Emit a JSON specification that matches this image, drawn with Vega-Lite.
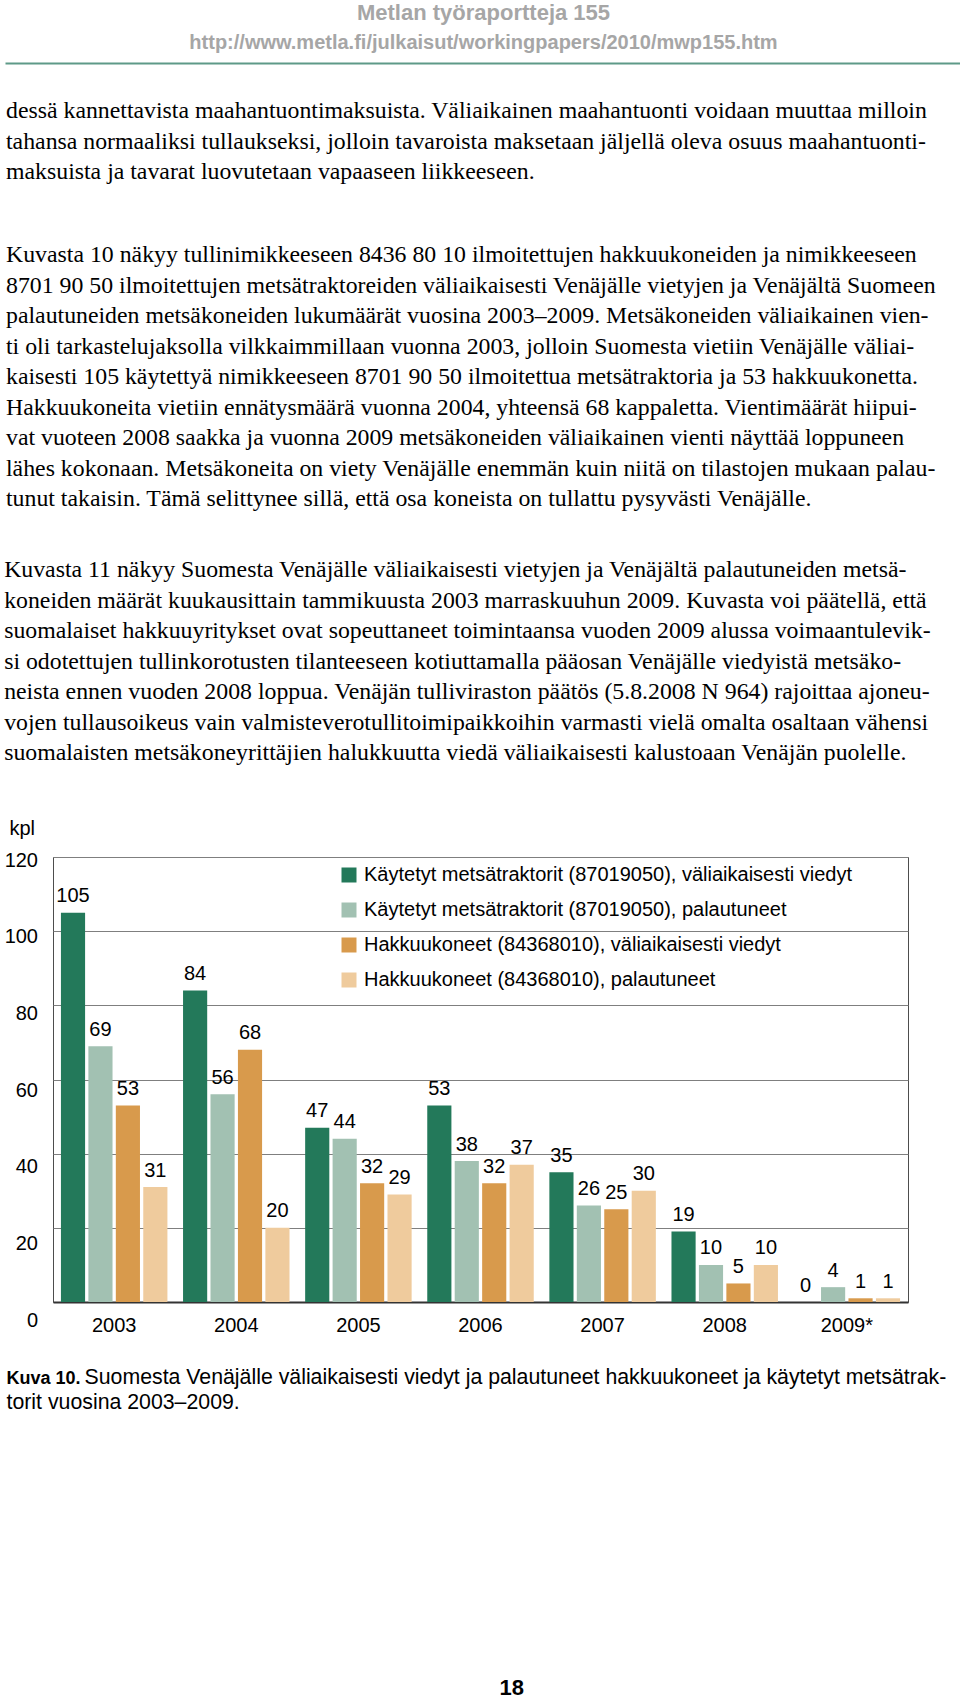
{
  "$schema": "https://vega.github.io/schema/vega-lite/v6.json",
  "background": "white",
  "padding": {"left": 3, "top": 2, "right": 0, "bottom": 0},
  "spacing": 36,
  "title": {"text": "18", "orient": "bottom", "anchor": "middle", "dx": 6, "offset": 265, "font": "Liberation Sans", "fontSize": 22, "fontWeight": "bold", "color": "#000000"},
  "resolve": {"legend": {"color": "independent"}, "scale": {"color": "independent", "x": "independent"}},
  "datasets": {
    "bars": [
      {"year": "2003", "series": "Käytetyt metsätraktorit (87019050), väliaikaisesti viedyt", "value": 105},
      {"year": "2003", "series": "Käytetyt metsätraktorit (87019050), palautuneet", "value": 69},
      {"year": "2003", "series": "Hakkuukoneet (84368010), väliaikaisesti viedyt", "value": 53},
      {"year": "2003", "series": "Hakkuukoneet (84368010), palautuneet", "value": 31},
      {"year": "2004", "series": "Käytetyt metsätraktorit (87019050), väliaikaisesti viedyt", "value": 84},
      {"year": "2004", "series": "Käytetyt metsätraktorit (87019050), palautuneet", "value": 56},
      {"year": "2004", "series": "Hakkuukoneet (84368010), väliaikaisesti viedyt", "value": 68},
      {"year": "2004", "series": "Hakkuukoneet (84368010), palautuneet", "value": 20},
      {"year": "2005", "series": "Käytetyt metsätraktorit (87019050), väliaikaisesti viedyt", "value": 47},
      {"year": "2005", "series": "Käytetyt metsätraktorit (87019050), palautuneet", "value": 44},
      {"year": "2005", "series": "Hakkuukoneet (84368010), väliaikaisesti viedyt", "value": 32},
      {"year": "2005", "series": "Hakkuukoneet (84368010), palautuneet", "value": 29},
      {"year": "2006", "series": "Käytetyt metsätraktorit (87019050), väliaikaisesti viedyt", "value": 53},
      {"year": "2006", "series": "Käytetyt metsätraktorit (87019050), palautuneet", "value": 38},
      {"year": "2006", "series": "Hakkuukoneet (84368010), väliaikaisesti viedyt", "value": 32},
      {"year": "2006", "series": "Hakkuukoneet (84368010), palautuneet", "value": 37},
      {"year": "2007", "series": "Käytetyt metsätraktorit (87019050), väliaikaisesti viedyt", "value": 35},
      {"year": "2007", "series": "Käytetyt metsätraktorit (87019050), palautuneet", "value": 26},
      {"year": "2007", "series": "Hakkuukoneet (84368010), väliaikaisesti viedyt", "value": 25},
      {"year": "2007", "series": "Hakkuukoneet (84368010), palautuneet", "value": 30},
      {"year": "2008", "series": "Käytetyt metsätraktorit (87019050), väliaikaisesti viedyt", "value": 19},
      {"year": "2008", "series": "Käytetyt metsätraktorit (87019050), palautuneet", "value": 10},
      {"year": "2008", "series": "Hakkuukoneet (84368010), väliaikaisesti viedyt", "value": 5},
      {"year": "2008", "series": "Hakkuukoneet (84368010), palautuneet", "value": 10},
      {"year": "2009*", "series": "Käytetyt metsätraktorit (87019050), väliaikaisesti viedyt", "value": 0},
      {"year": "2009*", "series": "Käytetyt metsätraktorit (87019050), palautuneet", "value": 4},
      {"year": "2009*", "series": "Hakkuukoneet (84368010), väliaikaisesti viedyt", "value": 1},
      {"year": "2009*", "series": "Hakkuukoneet (84368010), palautuneet", "value": 1}
    ]
  },
  "vconcat": [
    {
      "width": 907,
      "height": 1,
      "view": {"stroke": null},
      "title": {
        "text": "Metlan työraportteja 155",
        "subtitle": "http://www.metla.fi/julkaisut/workingpapers/2010/mwp155.htm",
        "anchor": "middle",
        "frame": "group",
        "dx": -23,
        "font": "Liberation Sans",
        "fontSize": 22,
        "fontWeight": "bold",
        "color": "#a6a6a6",
        "subtitleFont": "Liberation Sans",
        "subtitleFontSize": 20,
        "subtitleFontWeight": "bold",
        "subtitleColor": "#a6a6a6",
        "subtitlePadding": 8,
        "offset": 8
      },
      "data": {"name": "bars"},
      "mark": {"type": "point", "opacity": 0, "size": 0},
      "encoding": {
        "x": {
          "field": "year", "type": "nominal", "sort": null,
          "scale": {"range": [-48, 907]},
          "axis": {"orient": "bottom", "title": null, "labels": false, "ticks": false, "grid": false, "domain": true, "domainColor": "#5e9a88", "domainWidth": 2}
        }
      }
    },
    {
      "width": 907,
      "height": 1,
      "view": {"stroke": null},
      "title": {
        "text": [
          "dessä kannettavista maahantuontimaksuista. Väliaikainen maahantuonti voidaan muuttaa milloin",
          "tahansa normaaliksi tullaukseksi, jolloin tavaroista maksetaan jäljellä oleva osuus maahantuonti-",
          "maksuista ja tavarat luovutetaan vapaaseen liikkeeseen."
        ],
        "subtitle": [
          "Kuvasta 10 näkyy tullinimikkeeseen 8436 80 10 ilmoitettujen hakkuukoneiden ja nimikkeeseen",
          "8701 90 50 ilmoitettujen metsätraktoreiden väliaikaisesti Venäjälle vietyjen ja Venäjältä Suomeen",
          "palautuneiden metsäkoneiden lukumäärät vuosina 2003–2009. Metsäkoneiden väliaikainen vien-",
          "ti oli tarkastelujaksolla vilkkaimmillaan vuonna 2003, jolloin Suomesta vietiin Venäjälle väliai-",
          "kaisesti 105 käytettyä nimikkeeseen 8701 90 50 ilmoitettua metsätraktoria ja 53 hakkuukonetta.",
          "Hakkuukoneita vietiin ennätysmäärä vuonna 2004, yhteensä 68 kappaletta. Vientimäärät hiipui-",
          "vat vuoteen 2008 saakka ja vuonna 2009 metsäkoneiden väliaikainen vienti näyttää loppuneen",
          "lähes kokonaan. Metsäkoneita on viety Venäjälle enemmän kuin niitä on tilastojen mukaan palau-",
          "tunut takaisin. Tämä selittynee sillä, että osa koneista on tullattu pysyvästi Venäjälle."
        ],
        "anchor": "start",
        "frame": "group",
        "align": "left",
        "dx": -47,
        "font": "Liberation Serif",
        "fontSize": 23.8,
        "fontWeight": "normal",
        "color": "#000000",
        "lineHeight": 30.5,
        "subtitleFont": "Liberation Serif",
        "subtitleFontSize": 23.8,
        "subtitleFontWeight": "normal",
        "subtitleColor": "#000000",
        "subtitleLineHeight": 30.5,
        "subtitlePadding": 59,
        "offset": 8.6
      },
      "data": {"values": [{"t": 0}]},
      "mark": {"type": "rule"},
      "encoding": {}
    },
    {
      "width": 855,
      "height": 445,
      "view": {"stroke": "#4d4d4d", "strokeWidth": 1},
      "data": {"name": "bars"},
      "title": {
        "text": [
          "Kuvasta 11 näkyy Suomesta Venäjälle väliaikaisesti vietyjen ja Venäjältä palautuneiden metsä-",
          "koneiden määrät kuukausittain tammikuusta 2003 marraskuuhun 2009. Kuvasta voi päätellä, että",
          "suomalaiset hakkuuyritykset ovat sopeuttaneet toimintaansa vuoden 2009 alussa voimaantulevik-",
          "si odotettujen tullinkorotusten tilanteeseen kotiuttamalla pääosan Venäjälle viedyistä metsäko-",
          "neista ennen vuoden 2008 loppua. Venäjän tulliviraston päätös (5.8.2008 N 964) rajoittaa ajoneu-",
          "vojen tullausoikeus vain valmisteverotullitoimipaikkoihin varmasti vielä omalta osaltaan vähensi",
          "suomalaisten metsäkoneyrittäjien halukkuutta viedä väliaikaisesti kalustoaan Venäjän puolelle."
        ],
        "anchor": "start",
        "frame": "bounds",
        "align": "left",
        "font": "Liberation Serif",
        "fontSize": 23.8,
        "fontWeight": "normal",
        "color": "#000000",
        "lineHeight": 30.5,
        "offset": 53
      },
      "layer": [
        {
          "layer": [
            {
              "mark": {"type": "bar"},
              "encoding": {
                "x": {
                  "field": "year", "type": "nominal", "sort": null,
                  "scale": {"paddingInner": 0.128, "paddingOuter": 0.065},
                  "axis": {
                    "title": "Kuva 10.",
                    "titleFont": "Liberation Sans", "titleFontSize": 18, "titleFontWeight": "bold", "titleColor": "#000000",
                    "titleX": -47, "titleY": 81, "titleAlign": "left", "titleBaseline": "alphabetic",
                    "labelAngle": 0, "labelFont": "Liberation Sans", "labelFontSize": 20, "labelColor": "#000000", "labelPadding": 13,
                    "ticks": false, "grid": false, "domainColor": "#333333", "domainWidth": 2
                  }
                },
                "xOffset": {"field": "series", "type": "nominal", "sort": null, "scale": {"paddingInner": 0.12, "paddingOuter": 0}},
                "y": {
                  "field": "value", "type": "quantitative",
                  "scale": {"domain": [0, 120], "nice": false},
                  "axis": {
                    "orient": "left",
                    "values": [0, 20, 40, 60, 80, 100, 120],
                    "labels": false, "ticks": false, "domain": false,
                    "grid": true, "gridColor": "#7f7f7f", "gridWidth": 1,
                    "title": "torit vuosina 2003–2009.",
                    "titleAngle": 0, "titleX": -47, "titleY": 551, "titleAlign": "left", "titleBaseline": "alphabetic",
                    "titleFont": "Liberation Sans", "titleFontSize": 21.3, "titleFontWeight": "normal", "titleColor": "#000000"
                  }
                },
                "color": {
                  "field": "series", "type": "nominal", "sort": null,
                  "scale": {
                    "domain": [
                      "Käytetyt metsätraktorit (87019050), väliaikaisesti viedyt",
                      "Käytetyt metsätraktorit (87019050), palautuneet",
                      "Hakkuukoneet (84368010), väliaikaisesti viedyt",
                      "Hakkuukoneet (84368010), palautuneet"
                    ],
                    "range": ["#23795a", "#a2c1b2", "#d89a4c", "#efcb9d"]
                  },
                  "legend": {
                    "orient": "none", "legendX": 286, "legendY": 8, "direction": "vertical",
                    "title": null, "padding": 0,
                    "symbolType": "square", "symbolSize": 225, "symbolStrokeWidth": 0, "symbolOpacity": 1,
                    "labelFont": "Liberation Sans", "labelFontSize": 20, "labelColor": "#000000", "labelLimit": 700,
                    "labelOffset": 5, "rowPadding": 15
                  }
                }
              }
            },
            {
              "mark": {"type": "text", "baseline": "alphabetic", "dy": -10.5, "font": "Liberation Sans", "fontSize": 20, "color": "#000000"},
              "encoding": {
                "x": {"field": "year", "type": "nominal", "sort": null},
                "xOffset": {"field": "series", "type": "nominal", "sort": null},
                "y": {"field": "value", "type": "quantitative"},
                "text": {"field": "value", "type": "quantitative"}
              }
            }
          ]
        },
        {
          "mark": {"type": "point", "opacity": 0},
          "encoding": {
            "x": {
              "field": "year", "type": "nominal", "sort": null,
              "axis": {
                "orient": "bottom", "labels": false, "ticks": false, "domain": false, "grid": false,
                "title": "Suomesta Venäjälle väliaikaisesti viedyt ja palautuneet hakkuukoneet ja käytetyt metsätrak-",
                "titleX": 31, "titleY": 81, "titleAlign": "left", "titleBaseline": "alphabetic",
                "titleFont": "Liberation Sans", "titleFontSize": 21.3, "titleFontWeight": "normal", "titleColor": "#000000"
              }
            },
            "y": {
              "field": "value", "type": "quantitative",
              "scale": {"domain": [0, 120], "range": [463, 3], "nice": false},
              "axis": {
                "orient": "left",
                "values": [0, 20, 40, 60, 80, 100, 120],
                "labels": true, "ticks": false, "domain": false, "grid": false,
                "labelFont": "Liberation Sans", "labelFontSize": 20, "labelColor": "#000000", "labelPadding": 15.5,
                "title": "kpl",
                "titleAngle": 0, "titleX": -44, "titleY": -23, "titleAlign": "left", "titleBaseline": "alphabetic",
                "titleFont": "Liberation Sans", "titleFontSize": 20, "titleFontWeight": "normal", "titleColor": "#000000"
              }
            }
          }
        }
      ],
      "resolve": {"scale": {"x": "independent", "y": "independent"}}
    }
  ],
  "config": {
    "font": "Liberation Sans",
    "view": {"stroke": null}
  }
}
